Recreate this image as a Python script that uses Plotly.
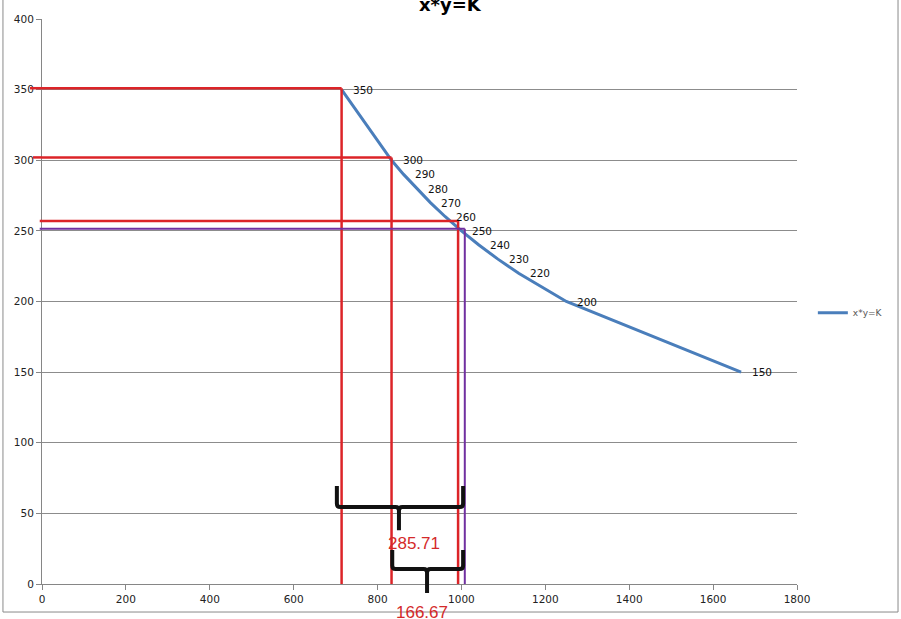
import plotly.graph_objects as go

# ---- data ----
x_vals = [714.29, 833.33, 862.07, 892.86, 925.93, 961.54, 1000, 1041.67, 1086.96, 1136.36, 1250, 1666.67]
y_vals = [350, 300, 290, 280, 270, 260, 250, 240, 230, 220, 200, 150]
point_labels = ["350", "300", "290", "280", "270", "260", "250", "240", "230", "220", "200", "150"]
series_name = "x*y=K"
chart_title = "x*y=K"

x_ticks = [0, 200, 400, 600, 800, 1000, 1200, 1400, 1600, 1800]
y_ticks = [0, 50, 100, 150, 200, 250, 300, 350, 400]

# hand-drawn guide lines (data coordinates)
red_guide_x = [714.29, 833.33, 992]
red_guide_y = [351, 302, 257]
purple_guide_x = [1008]
purple_guide_y = [251.5]

# braces: left x, right x, bar y, end y, nib x, nib y
brace_left = [703, 835]
brace_right = [1004, 1004]
brace_bar_y = [54.5, 10.6]
brace_end_y = [69.4, 24.0]
brace_nib_x = [851, 918]
brace_nib_y = [38.0, -6.4]
brace_labels = ["285.71", "166.67"]
brace_label_x = [887, 906]
brace_label_y = [29, -20]

XMAX = 1800
YMAX = 400

fig = go.Figure()
fig.add_trace(go.Scatter(
    x=x_vals, y=y_vals, mode="lines", name=series_name,
    line=dict(color="#4a7ebb", width=3),
))

shapes = []
red = "#dc2428"
purple = "#7030a0"
stub_left = [-0.016, -0.012, -0.003]
for gx, gy, sl in zip(red_guide_x, red_guide_y, stub_left):
    shapes.append(dict(type="line", xref="x", yref="y", x0=0, x1=gx, y0=gy, y1=gy,
                       line=dict(color=red, width=2.5)))
    shapes.append(dict(type="line", xref="paper", yref="y", x0=sl, x1=0, y0=gy, y1=gy,
                       line=dict(color=red, width=2.5)))
    shapes.append(dict(type="line", xref="x", yref="y", x0=gx, x1=gx, y0=0, y1=gy,
                       line=dict(color=red, width=2.5)))
for gx, gy in zip(purple_guide_x, purple_guide_y):
    shapes.append(dict(type="line", xref="x", yref="y", x0=0, x1=gx, y0=gy, y1=gy,
                       line=dict(color=purple, width=2)))
    shapes.append(dict(type="line", xref="paper", yref="y", x0=-0.003, x1=0, y0=gy, y1=gy,
                       line=dict(color=purple, width=2)))
    shapes.append(dict(type="line", xref="x", yref="y", x0=gx, x1=gx, y0=0, y1=gy,
                       line=dict(color=purple, width=2)))

# braces drawn as paths (y in paper fraction so the nib may cross below the axis)
for xl, xr, yb, ye, xn, yn in zip(brace_left, brace_right, brace_bar_y, brace_end_y, brace_nib_x, brace_nib_y):
    rx = 8.0
    ry = 2.5
    p = lambda v: v / YMAX
    path = (
        f"M {xl},{p(ye)} L {xl},{p(yb + ry)} Q {xl},{p(yb)} {xl + rx},{p(yb)} "
        f"L {xn - rx},{p(yb)} Q {xn},{p(yb)} {xn},{p(yb - ry)} L {xn},{p(yn)} "
        f"M {xn},{p(yb - ry)} Q {xn},{p(yb)} {xn + rx},{p(yb)} "
        f"L {xr - rx},{p(yb)} Q {xr},{p(yb)} {xr},{p(yb + ry)} L {xr},{p(ye)}"
    )
    shapes.append(dict(type="path", xref="x", yref="paper", path=path,
                       line=dict(color="#111111", width=4)))

# outer chart frame
shapes.append(dict(type="rect", xref="paper", yref="paper", x0=-0.0517, x1=1.1338,
                   y0=-0.0496, y1=1.2, line=dict(color="#8a8a8a", width=1)))

annotations = []
for xv, yv, t in zip(x_vals, y_vals, point_labels):
    annotations.append(dict(x=xv, y=yv, xref="x", yref="y", text=t, showarrow=False,
                            xanchor="left", yanchor="middle", xshift=9,
                            font=dict(family="DejaVu Sans", size=10.5, color="#111111")))
for t, bx, by in zip(brace_labels, brace_label_x, brace_label_y):
    annotations.append(dict(x=bx, y=by / YMAX, xref="x", yref="paper", text=t, showarrow=False,
                            xanchor="center", yanchor="middle",
                            font=dict(family="Liberation Sans", size=17, color="#d42a2a")))
annotations.append(dict(x=0.541, y=1.025, xref="paper", yref="paper", text="<b>" + chart_title + "</b>",
                        showarrow=False, xanchor="center", yanchor="middle",
                        font=dict(family="DejaVu Sans", size=18, color="#000000")))

fig.update_layout(
    width=901, height=619,
    margin=dict(l=42, r=104, t=19, b=35, pad=0),
    paper_bgcolor="white", plot_bgcolor="white",
    showlegend=True,
    legend=dict(x=1.021, y=0.48, xanchor="left", yanchor="middle",
                font=dict(family="DejaVu Sans", size=9, color="#555555"),
                bgcolor="rgba(0,0,0,0)", itemwidth=30),
    shapes=shapes,
    annotations=annotations,
)
fig.update_xaxes(range=[0, XMAX], tickvals=x_ticks, showgrid=False, zeroline=False,
                 showline=True, linecolor="#868686", linewidth=1,
                 ticks="outside", ticklen=5, tickcolor="#868686",
                 tickfont=dict(family="DejaVu Sans", size=10.5, color="#222222"))
fig.update_yaxes(range=[0, YMAX], tickvals=y_ticks, showgrid=True, gridcolor="#8c8c8c", gridwidth=1,
                 zeroline=False, showline=True, linecolor="#868686", linewidth=1,
                 ticks="outside", ticklen=5, tickcolor="#868686",
                 tickfont=dict(family="DejaVu Sans", size=10.5, color="#222222"))

fig.write_html("out.html", config={"displayModeBar": False},
               post_script="document.body.style.margin='0';document.body.style.overflow='hidden';")
